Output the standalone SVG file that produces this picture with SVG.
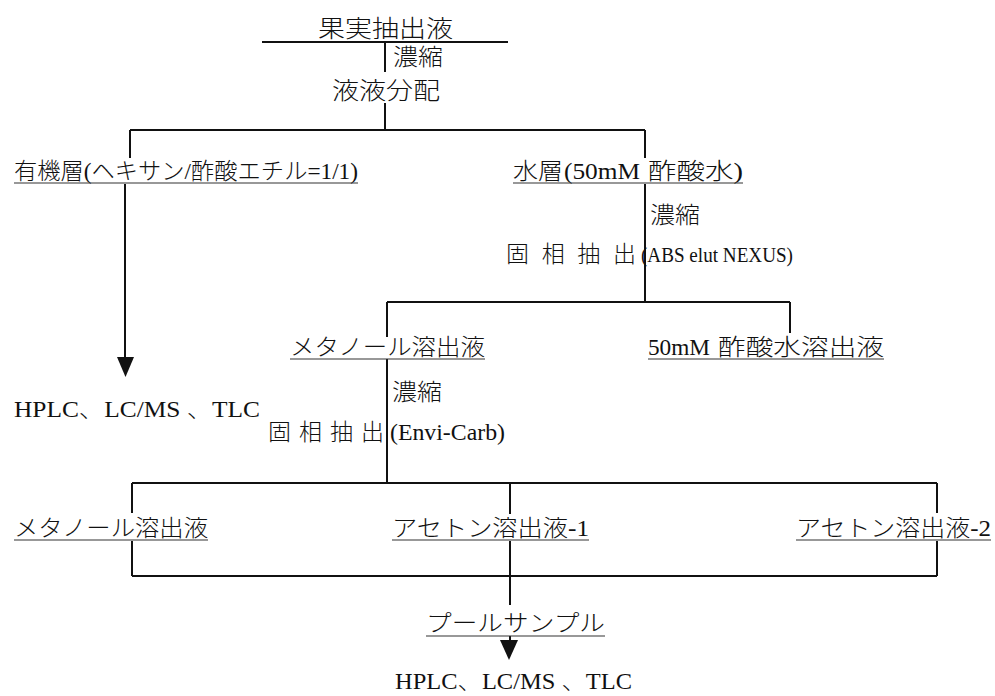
<svg xmlns="http://www.w3.org/2000/svg" width="995" height="696" viewBox="0 0 995 696">
<style>
text{font-family:"Liberation Serif","Noto Sans CJK JP",serif;font-size:23px;font-weight:300;fill:#111;}
.big{font-size:24px;}
.lat{font-size:21px;}
.ln{stroke:#111;stroke-width:2;fill:none;}
.ul{stroke:#333;stroke-width:1.2;fill:none;}
.ah{fill:#111;stroke:none;}
</style>
<rect width="995" height="696" fill="#fff"/>
<g id="connectors">
<path class="ln" d="M262 42H508 M385 42V72 M385 103V130 M130 130H645 M130 130V158 M645 130V158"/>
<path class="ln" d="M125 184V360"/>
<polygon class="ah" points="117,357 134,357 125.5,377"/>
<path class="ln" d="M645 184V302 M387 302H790 M387 302V337 M790 302V333 M387 359V483"/>
<path class="ln" d="M132 483H937 M132 576H937 M132 483V513 M132 541V576 M510 483V514 M510 541V605 M937 483V513 M937 541V576"/>
<path class="ln" d="M510 636V642"/>
<polygon class="ah" points="500,640 518,640 509,660"/>
</g>
<g id="n1"><text class="big" x="318" y="37" textLength="135" lengthAdjust="spacingAndGlyphs">果実抽出液</text></g>
<g id="n1a"><text x="393" y="65" textLength="50" lengthAdjust="spacingAndGlyphs">濃縮</text></g>
<g id="n2"><text class="big" x="332" y="99" textLength="108" lengthAdjust="spacingAndGlyphs">液液分配</text></g>
<g id="n3"><text x="14" y="179" textLength="344" lengthAdjust="spacingAndGlyphs">有機層(ヘキサン/酢酸エチル=1/1)</text><path class="ul" d="M14 183H358"/></g>
<g id="n4"><text x="513" y="179"><tspan x="513" textLength="50" lengthAdjust="spacingAndGlyphs">水層</tspan><tspan x="564" textLength="76" lengthAdjust="spacingAndGlyphs">(50mM</tspan><tspan x="648" textLength="95" lengthAdjust="spacingAndGlyphs">酢酸水)</tspan></text><path class="ul" d="M513 183H743"/></g>
<g id="n4a"><text x="650" y="223" textLength="50" lengthAdjust="spacingAndGlyphs">濃縮</text></g>
<g id="n5"><text x="506" y="262"><tspan x="506" textLength="130" lengthAdjust="spacing">固相抽出</tspan><tspan class="lat" x="641" textLength="152" lengthAdjust="spacingAndGlyphs">(ABS elut NEXUS)</tspan></text></g>
<g id="n6"><text x="290" y="355" textLength="195" lengthAdjust="spacingAndGlyphs">メタノール溶出液</text><path class="ul" d="M290 359H485"/></g>
<g id="n7"><text x="648" y="355"><tspan x="648" textLength="62" lengthAdjust="spacingAndGlyphs">50mM</tspan><tspan x="718" textLength="166" lengthAdjust="spacingAndGlyphs">酢酸水溶出液</tspan></text><path class="ul" d="M648 359H884"/></g>
<g id="n8"><text x="14" y="417" textLength="246" lengthAdjust="spacingAndGlyphs">HPLC、LC/MS 、TLC</text></g>
<g id="n6a"><text x="392" y="400" textLength="50" lengthAdjust="spacingAndGlyphs">濃縮</text></g>
<g id="n9"><text x="268" y="440"><tspan x="268" textLength="116" lengthAdjust="spacing">固相抽出</tspan><tspan x="390" textLength="115" lengthAdjust="spacingAndGlyphs">(Envi-Carb)</tspan></text></g>
<g id="n10"><text x="14" y="536" textLength="194" lengthAdjust="spacingAndGlyphs">メタノール溶出液</text><path class="ul" d="M14 540H208"/></g>
<g id="n11"><text x="392" y="536" textLength="197" lengthAdjust="spacingAndGlyphs">アセトン溶出液-1</text><path class="ul" d="M392 540H589"/></g>
<g id="n12"><text x="796" y="536" textLength="195" lengthAdjust="spacingAndGlyphs">アセトン溶出液-2</text><path class="ul" d="M796 540H991"/></g>
<g id="n13"><text x="426" y="631" textLength="179" lengthAdjust="spacingAndGlyphs">プールサンプル</text><path class="ul" d="M426 636H605"/></g>
<g id="n14"><text x="395" y="689" textLength="237" lengthAdjust="spacingAndGlyphs">HPLC、LC/MS 、TLC</text></g>
</svg>
